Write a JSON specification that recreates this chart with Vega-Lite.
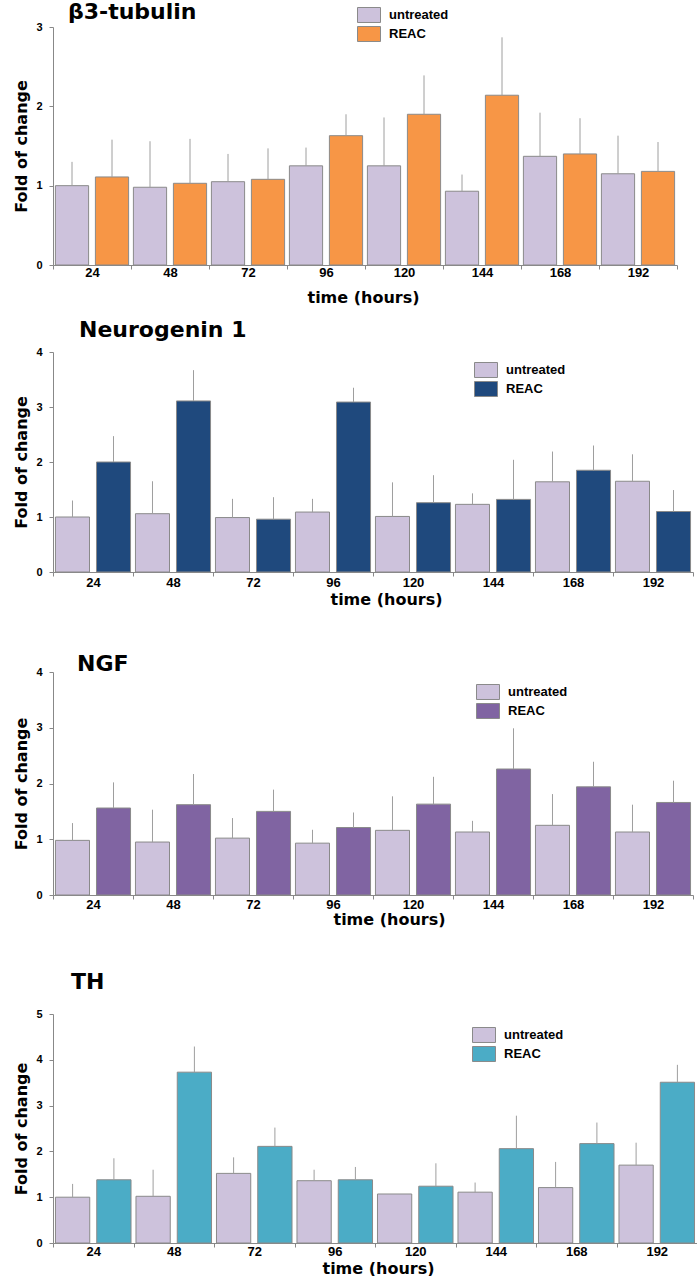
{
  "$schema": "https://vega.github.io/schema/vega-lite/v6.json",
  "padding": {"left": 13, "top": 1, "right": 0, "bottom": 0},
  "background": "white",
  "spacing": 14,
  "data": {"values": [
    {"gene": "b3", "time": 24, "group": "untreated", "value": 1.00, "err": 1.30},
    {"gene": "b3", "time": 24, "group": "REAC", "value": 1.11, "err": 1.58},
    {"gene": "b3", "time": 48, "group": "untreated", "value": 0.98, "err": 1.56},
    {"gene": "b3", "time": 48, "group": "REAC", "value": 1.03, "err": 1.59},
    {"gene": "b3", "time": 72, "group": "untreated", "value": 1.05, "err": 1.40},
    {"gene": "b3", "time": 72, "group": "REAC", "value": 1.08, "err": 1.47},
    {"gene": "b3", "time": 96, "group": "untreated", "value": 1.25, "err": 1.48},
    {"gene": "b3", "time": 96, "group": "REAC", "value": 1.63, "err": 1.90},
    {"gene": "b3", "time": 120, "group": "untreated", "value": 1.25, "err": 1.86},
    {"gene": "b3", "time": 120, "group": "REAC", "value": 1.90, "err": 2.39},
    {"gene": "b3", "time": 144, "group": "untreated", "value": 0.93, "err": 1.14},
    {"gene": "b3", "time": 144, "group": "REAC", "value": 2.14, "err": 2.87},
    {"gene": "b3", "time": 168, "group": "untreated", "value": 1.37, "err": 1.92},
    {"gene": "b3", "time": 168, "group": "REAC", "value": 1.40, "err": 1.85},
    {"gene": "b3", "time": 192, "group": "untreated", "value": 1.15, "err": 1.63},
    {"gene": "b3", "time": 192, "group": "REAC", "value": 1.18, "err": 1.55},
    {"gene": "ngn", "time": 24, "group": "untreated", "value": 1.00, "err": 1.30},
    {"gene": "ngn", "time": 24, "group": "REAC", "value": 2.00, "err": 2.47},
    {"gene": "ngn", "time": 48, "group": "untreated", "value": 1.06, "err": 1.65},
    {"gene": "ngn", "time": 48, "group": "REAC", "value": 3.11, "err": 3.67},
    {"gene": "ngn", "time": 72, "group": "untreated", "value": 0.99, "err": 1.33},
    {"gene": "ngn", "time": 72, "group": "REAC", "value": 0.96, "err": 1.36},
    {"gene": "ngn", "time": 96, "group": "untreated", "value": 1.09, "err": 1.33},
    {"gene": "ngn", "time": 96, "group": "REAC", "value": 3.09, "err": 3.35},
    {"gene": "ngn", "time": 120, "group": "untreated", "value": 1.01, "err": 1.63},
    {"gene": "ngn", "time": 120, "group": "REAC", "value": 1.26, "err": 1.76},
    {"gene": "ngn", "time": 144, "group": "untreated", "value": 1.23, "err": 1.43},
    {"gene": "ngn", "time": 144, "group": "REAC", "value": 1.32, "err": 2.04},
    {"gene": "ngn", "time": 168, "group": "untreated", "value": 1.64, "err": 2.19},
    {"gene": "ngn", "time": 168, "group": "REAC", "value": 1.85, "err": 2.30},
    {"gene": "ngn", "time": 192, "group": "untreated", "value": 1.65, "err": 2.14},
    {"gene": "ngn", "time": 192, "group": "REAC", "value": 1.10, "err": 1.49},
    {"gene": "ngf", "time": 24, "group": "untreated", "value": 0.98, "err": 1.29},
    {"gene": "ngf", "time": 24, "group": "REAC", "value": 1.56, "err": 2.02},
    {"gene": "ngf", "time": 48, "group": "untreated", "value": 0.95, "err": 1.53},
    {"gene": "ngf", "time": 48, "group": "REAC", "value": 1.62, "err": 2.17},
    {"gene": "ngf", "time": 72, "group": "untreated", "value": 1.02, "err": 1.38},
    {"gene": "ngf", "time": 72, "group": "REAC", "value": 1.50, "err": 1.89},
    {"gene": "ngf", "time": 96, "group": "untreated", "value": 0.93, "err": 1.17},
    {"gene": "ngf", "time": 96, "group": "REAC", "value": 1.21, "err": 1.48},
    {"gene": "ngf", "time": 120, "group": "untreated", "value": 1.16, "err": 1.77},
    {"gene": "ngf", "time": 120, "group": "REAC", "value": 1.63, "err": 2.12},
    {"gene": "ngf", "time": 144, "group": "untreated", "value": 1.13, "err": 1.33},
    {"gene": "ngf", "time": 144, "group": "REAC", "value": 2.26, "err": 2.99},
    {"gene": "ngf", "time": 168, "group": "untreated", "value": 1.25, "err": 1.81},
    {"gene": "ngf", "time": 168, "group": "REAC", "value": 1.94, "err": 2.39},
    {"gene": "ngf", "time": 192, "group": "untreated", "value": 1.13, "err": 1.62},
    {"gene": "ngf", "time": 192, "group": "REAC", "value": 1.66, "err": 2.05},
    {"gene": "th", "time": 24, "group": "untreated", "value": 1.00, "err": 1.29},
    {"gene": "th", "time": 24, "group": "REAC", "value": 1.38, "err": 1.85},
    {"gene": "th", "time": 48, "group": "untreated", "value": 1.02, "err": 1.60},
    {"gene": "th", "time": 48, "group": "REAC", "value": 3.73, "err": 4.29},
    {"gene": "th", "time": 72, "group": "untreated", "value": 1.52, "err": 1.87},
    {"gene": "th", "time": 72, "group": "REAC", "value": 2.11, "err": 2.52},
    {"gene": "th", "time": 96, "group": "untreated", "value": 1.36, "err": 1.60},
    {"gene": "th", "time": 96, "group": "REAC", "value": 1.38, "err": 1.66},
    {"gene": "th", "time": 120, "group": "untreated", "value": 1.07, "err": 1.07},
    {"gene": "th", "time": 120, "group": "REAC", "value": 1.24, "err": 1.74},
    {"gene": "th", "time": 144, "group": "untreated", "value": 1.11, "err": 1.32},
    {"gene": "th", "time": 144, "group": "REAC", "value": 2.06, "err": 2.78},
    {"gene": "th", "time": 168, "group": "untreated", "value": 1.21, "err": 1.77},
    {"gene": "th", "time": 168, "group": "REAC", "value": 2.17, "err": 2.63},
    {"gene": "th", "time": 192, "group": "untreated", "value": 1.70, "err": 2.19},
    {"gene": "th", "time": 192, "group": "REAC", "value": 3.51, "err": 3.89}
  ]},
  "vconcat": [
    {
      "title": {"text": "β3-tubulin", "dx": 15, "offset": -17},
      "width": 624, "height": 238,
      "transform": [{"filter": "datum.gene === 'b3'"}],
      "encoding": {
        "x": {"field": "time", "type": "ordinal", "scale": {"paddingInner": 0, "paddingOuter": 0},
              "axis": {"title": "time (hours)", "labelPadding": -3, "titlePadding": 10, "titleX": 310}},
        "xOffset": {"field": "group", "type": "nominal", "scale": {"domain": ["untreated", "REAC"], "paddingInner": 0.17, "paddingOuter": 0.06}},
        "y": {"field": "value", "type": "quantitative", "scale": {"domain": [0, 3], "nice": false},
              "axis": {"title": "Fold of change", "values": [0, 1, 2, 3]}}
      },
      "layer": [
        {"mark": {"type": "bar", "stroke": "#8a8a8a", "strokeWidth": 1},
         "encoding": {"fill": {"field": "group", "type": "nominal",
           "scale": {"domain": ["untreated", "REAC"], "range": ["#CDC2DC", "#F79646"]},
           "legend": {"orient": "none", "legendX": 304, "legendY": -20}}}},
        {"mark": {"type": "rule", "color": "#9e9e9e", "strokeWidth": 1},
         "encoding": {"y2": {"field": "err"}}}
      ]
    },
    {
      "title": {"text": "Neurogenin 1", "dx": 26, "offset": 4},
      "width": 640, "height": 220,
      "transform": [{"filter": "datum.gene === 'ngn'"}],
      "encoding": {
        "x": {"field": "time", "type": "ordinal", "scale": {"paddingInner": 0, "paddingOuter": 0},
              "axis": {"title": ["time (hours)", " "], "titleLineHeight": 32, "labelPadding": 0, "titlePadding": 2, "titleX": 333}},
        "xOffset": {"field": "group", "type": "nominal", "scale": {"domain": ["untreated", "REAC"], "paddingInner": 0.17, "paddingOuter": 0.06}},
        "y": {"field": "value", "type": "quantitative", "scale": {"domain": [0, 4], "nice": false},
              "axis": {"title": "Fold of change", "values": [0, 1, 2, 3, 4]}}
      },
      "layer": [
        {"mark": {"type": "bar", "stroke": "#8a8a8a", "strokeWidth": 1},
         "encoding": {"fill": {"field": "group", "type": "nominal",
           "scale": {"domain": ["untreated", "REAC"], "range": ["#CDC2DC", "#1F497D"]},
           "legend": {"orient": "none", "legendX": 421, "legendY": 10}}}},
        {"mark": {"type": "rule", "color": "#9e9e9e", "strokeWidth": 1},
         "encoding": {"y2": {"field": "err"}}}
      ]
    },
    {
      "title": {"text": "NGF", "dx": 24, "offset": -10},
      "width": 640, "height": 223,
      "transform": [{"filter": "datum.gene === 'ngf'"}],
      "encoding": {
        "x": {"field": "time", "type": "ordinal", "scale": {"paddingInner": 0, "paddingOuter": 0},
              "axis": {"title": ["time (hours)", " "], "titleLineHeight": 30, "labelPadding": -1, "titlePadding": 0, "titleX": 336}},
        "xOffset": {"field": "group", "type": "nominal", "scale": {"domain": ["untreated", "REAC"], "paddingInner": 0.17, "paddingOuter": 0.06}},
        "y": {"field": "value", "type": "quantitative", "scale": {"domain": [0, 4], "nice": false},
              "axis": {"title": "Fold of change", "values": [0, 1, 2, 3, 4]}}
      },
      "layer": [
        {"mark": {"type": "bar", "stroke": "#8a8a8a", "strokeWidth": 1},
         "encoding": {"fill": {"field": "group", "type": "nominal",
           "scale": {"domain": ["untreated", "REAC"], "range": ["#CDC2DC", "#8064A2"]},
           "legend": {"orient": "none", "legendX": 423, "legendY": 12}}}},
        {"mark": {"type": "rule", "color": "#9e9e9e", "strokeWidth": 1},
         "encoding": {"y2": {"field": "err"}}}
      ]
    },
    {
      "title": {"text": "TH", "dx": 18, "offset": 14},
      "width": 644, "height": 229,
      "transform": [{"filter": "datum.gene === 'th'"}],
      "encoding": {
        "x": {"field": "time", "type": "ordinal", "scale": {"paddingInner": 0, "paddingOuter": 0},
              "axis": {"title": "time (hours)", "labelPadding": -2, "titlePadding": 2, "titleX": 325}},
        "xOffset": {"field": "group", "type": "nominal", "scale": {"domain": ["untreated", "REAC"], "paddingInner": 0.17, "paddingOuter": 0.06}},
        "y": {"field": "value", "type": "quantitative", "scale": {"domain": [0, 5], "nice": false},
              "axis": {"title": "Fold of change", "values": [0, 1, 2, 3, 4, 5]}}
      },
      "layer": [
        {"mark": {"type": "bar", "stroke": "#8a8a8a", "strokeWidth": 1},
         "encoding": {"fill": {"field": "group", "type": "nominal",
           "scale": {"domain": ["untreated", "REAC"], "range": ["#CDC2DC", "#4BACC6"]},
           "legend": {"orient": "none", "legendX": 419, "legendY": 13}}}},
        {"mark": {"type": "rule", "color": "#9e9e9e", "strokeWidth": 1},
         "encoding": {"y2": {"field": "err"}}}
      ]
    }
  ],
  "resolve": {
    "scale": {"color": "independent", "fill": "independent", "x": "independent", "y": "independent", "xOffset": "independent"},
    "legend": {"fill": "independent"},
    "axis": {"x": "independent", "y": "independent"}
  },
  "config": {
    "view": {"stroke": null},
    "title": {"font": "DejaVu Sans", "fontSize": 22, "fontWeight": "bold", "color": "#000", "anchor": "start", "frame": "group", "baseline": "alphabetic"},
    "axis": {"grid": false, "domainColor": "#888", "tickColor": "#888", "labelColor": "#000", "titleColor": "#000",
             "labelFont": "Liberation Sans", "labelFontWeight": "bold", "titleFont": "DejaVu Sans", "titleFontWeight": "bold", "titleFontSize": 16},
    "axisX": {"labelAngle": 0, "labelFontSize": 13, "tickBand": "extent", "tickSize": 4},
    "axisY": {"labelFontSize": 11, "tickSize": 4, "labelPadding": 7, "titlePadding": 6},
    "legend": {"title": null, "padding": 0, "symbolType": "M-1,-0.652H1V0.652H-1Z", "symbolSize": 529,
               "symbolStrokeColor": "#8a8a8a", "symbolStrokeWidth": 1, "symbolOpacity": 1,
               "labelFont": "Liberation Sans", "labelFontSize": 13, "labelFontWeight": "bold", "labelColor": "#000",
               "labelOffset": 8, "clipHeight": 16, "rowPadding": 3}
  }
}
